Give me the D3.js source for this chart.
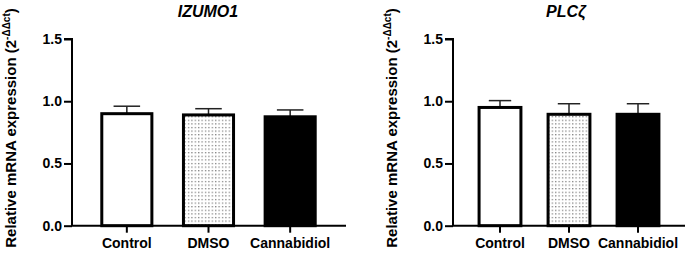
<!DOCTYPE html>
<html>
<head>
<meta charset="utf-8">
<script src="https://cdn.jsdelivr.net/npm/d3@7"></script>
<style>
  body { margin: 0; background: #fff; }
  svg { display: block; font-family: Arial, "Liberation Sans", sans-serif; }
</style>
</head>
<body>
<div id="chart"></div>
<script>
const width = 685;
const height = 257;

const groups = ["Control", "DMSO", "Cannabidiol"];
const yTicks = [0, 0.5, 1.0, 1.5];

const izumoMean = [0.90, 0.89, 0.875];
const izumoErr = [0.06, 0.05, 0.055];

const plczMean = [0.95, 0.895, 0.895];
const plczErr = [0.055, 0.085, 0.085];

const fills = ["#fff", "url(#dots)", "#000"];

const svg = d3.select("#chart")
  .append("svg")
  .attr("width", width)
  .attr("height", height);

// dotted fill for DMSO
const pattern = svg.append("defs").append("pattern")
  .attr("id", "dots")
  .attr("patternUnits", "userSpaceOnUse")
  .attr("width", 3.4)
  .attr("height", 3.6);
pattern.append("rect").attr("width", 3.4).attr("height", 3.6).attr("fill", "#fff");
pattern.append("rect")
  .attr("x", 1).attr("y", 1)
  .attr("width", 1.1).attr("height", 1.1)
  .attr("fill", "#555");

function drawPanel(opts) {
  const { axisX, bandRange, axisEnd, labelX, title, titleX, means, errs } = opts;

  const y = d3.scaleLinear().domain([0, 1.5]).range([225.7, 39]);
  const x = d3.scaleBand()
    .domain(groups)
    .range(bandRange)
    .paddingInner(0.35)
    .paddingOuter(0.175);

  const g = svg.append("g");

  // error bars (upper only)
  const bw = x.bandwidth();
  groups.forEach((grp, i) => {
    const cx = x(grp) + bw / 2;
    g.append("line")
      .attr("x1", cx).attr("x2", cx)
      .attr("y1", y(means[i])).attr("y2", y(means[i] + errs[i]))
      .attr("stroke", "#222").attr("stroke-width", 1.5);
    g.append("line")
      .attr("x1", cx - bw * 0.25).attr("x2", cx + bw * 0.25)
      .attr("y1", y(means[i] + errs[i])).attr("y2", y(means[i] + errs[i]))
      .attr("stroke", "#222").attr("stroke-width", 1.5);
  });

  g.selectAll("rect.bar")
    .data(groups)
    .join("rect")
    .attr("class", "bar")
    .attr("x", d => x(d) + 1.5)
    .attr("width", bw - 3)
    .attr("y", (d, i) => y(means[i]))
    .attr("height", (d, i) => y(0) - y(means[i]))
    .attr("fill", (d, i) => fills[i])
    .attr("stroke", "#000")
    .attr("stroke-width", 3);

  // y axis
  const yAxis = g.append("g")
    .attr("transform", `translate(${axisX},0)`)
    .call(d3.axisLeft(y).tickValues(yTicks).tickFormat(d3.format(".1f")).tickSize(8).tickPadding(2));
  yAxis.select(".domain").attr("stroke-width", 2).attr("d", `M-8,${y(1.5)}H0V${y(0)}`);
  yAxis.selectAll(".tick line").attr("stroke-width", 2);
  yAxis.selectAll("text")
    .attr("font-size", 14)
    .attr("font-weight", "bold")
    .attr("fill", "#000")
    .attr("font-family", "Arial, 'Liberation Sans', sans-serif");

  // x axis
  const xAxis = g.append("g")
    .attr("transform", `translate(0,${y(0)})`)
    .call(d3.axisBottom(x).tickSize(7).tickPadding(5));
  xAxis.select(".domain").attr("stroke-width", 2).attr("d", `M${axisX - 1},0H${axisEnd}`);
  xAxis.selectAll(".tick line").attr("stroke-width", 2);
  xAxis.selectAll("text")
    .attr("font-size", 14)
    .attr("font-weight", "bold")
    .attr("fill", "#000")
    .attr("font-family", "Arial, 'Liberation Sans', sans-serif");

  // title
  g.append("text")
    .attr("x", titleX)
    .attr("y", 17)
    .attr("text-anchor", "middle")
    .attr("font-size", 16)
    .attr("font-weight", "bold")
    .attr("font-style", "italic")
    .text(title);

  // y label
  const yl = g.append("text")
    .attr("transform", `translate(${labelX},128) rotate(-90)`)
    .attr("text-anchor", "middle")
    .attr("font-size", 15)
    .attr("font-weight", "bold");
  yl.append("tspan").text("Relative mRNA expression (2");
  yl.append("tspan").attr("font-size", 10).attr("dy", -6).text("-ΔΔct");
  yl.append("tspan").attr("dy", 6).text(")");
}

drawPanel({
  axisX: 72, bandRange: [86, 331], axisEnd: 346, labelX: 16,
  title: "IZUMO1", titleX: 208, means: izumoMean, errs: izumoErr
});

drawPanel({
  axisX: 453, bandRange: [465.5, 672.5], axisEnd: 685, labelX: 397,
  title: "PLCζ", titleX: 566, means: plczMean, errs: plczErr
});
</script>
</body>
</html>
